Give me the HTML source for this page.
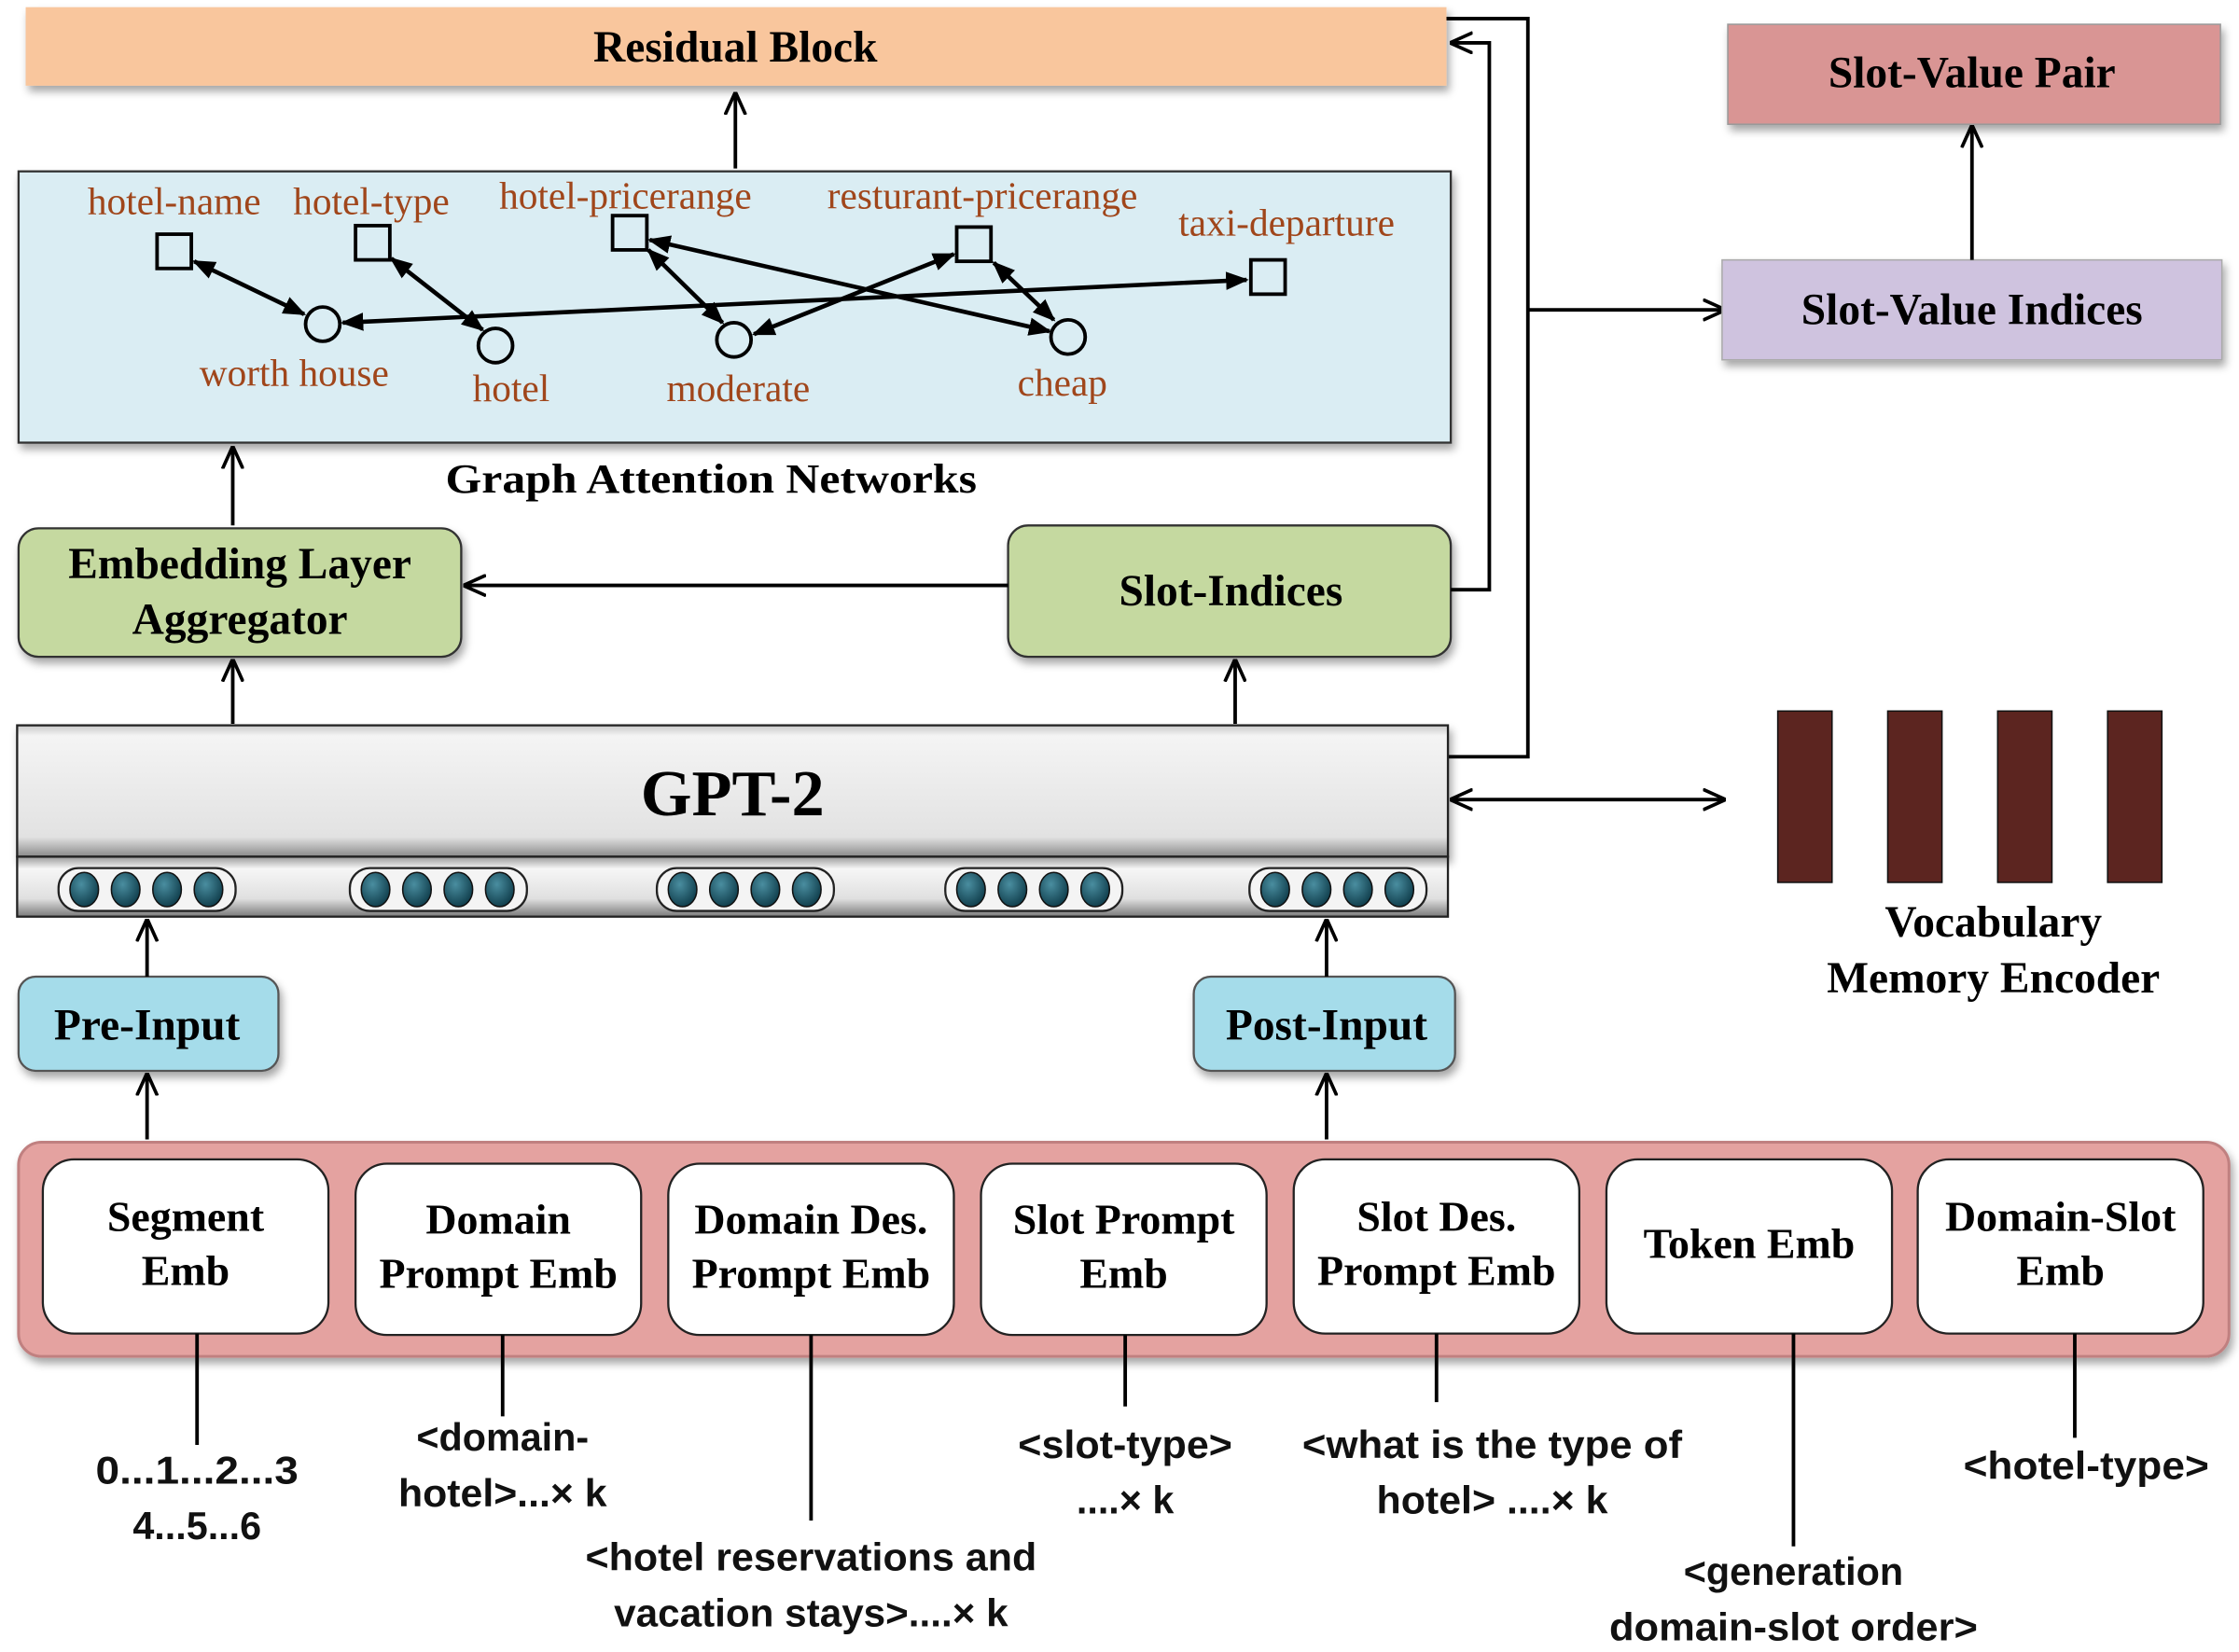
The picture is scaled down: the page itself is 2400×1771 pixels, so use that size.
<!DOCTYPE html>
<html><head><meta charset="utf-8"><style>
html,body{margin:0;padding:0;background:#fff;}
svg{display:block;}
.s{font-family:"Liberation Serif",serif;font-weight:bold;fill:#000;text-anchor:middle;}
.b{font-family:"Liberation Serif",serif;fill:#a0461b;text-anchor:middle;font-size:27px;}
.l{font-family:"Liberation Sans",sans-serif;font-weight:bold;fill:#111;text-anchor:middle;font-size:27px;}
</style></head><body>
<svg width="2400" height="1771" viewBox="0 0 1568 1157" xmlns="http://www.w3.org/2000/svg">
<defs>
<marker id="a" viewBox="0 0 10 10" refX="9" refY="5" markerWidth="16" markerHeight="16" orient="auto-start-reverse" markerUnits="userSpaceOnUse"><path d="M0,0.5 L10,5 L0,9.5" fill="none" stroke="#000" stroke-width="1.5"/></marker>
<marker id="g" viewBox="0 0 10 10" refX="9" refY="5" markerWidth="16" markerHeight="16" orient="auto-start-reverse" markerUnits="userSpaceOnUse"><path d="M0,1 L10,5 L0,9 z" fill="#000"/></marker>
<linearGradient id="gp" x1="0" y1="0" x2="0" y2="1"><stop offset="0" stop-color="#c8c8c8"/><stop offset="0.08" stop-color="#f4f4f4"/><stop offset="0.85" stop-color="#e2e2e2"/><stop offset="1" stop-color="#8a8a8a"/></linearGradient>
<linearGradient id="gs" x1="0" y1="0" x2="0" y2="1"><stop offset="0" stop-color="#9a9a9a"/><stop offset="0.2" stop-color="#f6f6f6"/><stop offset="0.7" stop-color="#e0e0e0"/><stop offset="1" stop-color="#7a7a7a"/></linearGradient>
<radialGradient id="dot" cx="0.4" cy="0.35" r="0.7"><stop offset="0" stop-color="#4a8ea0"/><stop offset="1" stop-color="#0d3a48"/></radialGradient>
<filter id="sh" x="-5%" y="-10%" width="110%" height="130%"><feDropShadow dx="2" dy="4" stdDeviation="3" flood-color="#000" flood-opacity="0.35"/></filter>
</defs>

<rect x="18" y="5" width="995" height="55" fill="#f9c69d" filter="url(#sh)"/>
<text class="s" x="515" y="43" font-size="31">Residual Block</text>
<line x1="515" y1="118" x2="515" y2="66" stroke="#000" stroke-width="2.5" marker-end="url(#a)"/>

<rect x="13" y="120" width="1003" height="190" fill="#daedf3" stroke="#333" stroke-width="1.5" filter="url(#sh)"/>
<g stroke="#000" stroke-width="3" fill="none">
<line x1="240" y1="226" x2="873" y2="196" marker-start="url(#g)" marker-end="url(#g)"/>
<line x1="136" y1="183" x2="213" y2="220" marker-start="url(#g)" marker-end="url(#g)"/>
<line x1="274" y1="181" x2="338" y2="231" marker-start="url(#g)" marker-end="url(#g)"/>
<line x1="454" y1="175" x2="506" y2="226" marker-start="url(#g)" marker-end="url(#g)"/>
<line x1="455" y1="168" x2="735" y2="232" marker-start="url(#g)" marker-end="url(#g)"/>
<line x1="528" y1="234" x2="668" y2="178" marker-start="url(#g)" marker-end="url(#g)"/>
<line x1="696" y1="184" x2="738" y2="224" marker-start="url(#g)" marker-end="url(#g)"/>
</g>
<g stroke="#000" stroke-width="2.5" fill="#daedf3">
<rect x="110" y="164" width="24" height="24"/>
<rect x="249" y="158" width="24" height="24"/>
<rect x="429" y="151" width="24" height="24"/>
<rect x="670" y="159" width="24" height="24"/>
<rect x="876" y="182" width="24" height="24"/>
<circle cx="226" cy="227" r="12"/>
<circle cx="347" cy="242" r="12"/>
<circle cx="514" cy="238" r="12"/>
<circle cx="748" cy="236" r="12"/>
</g>
<text class="b" x="122" y="150">hotel-name</text>
<text class="b" x="260" y="150">hotel-type</text>
<text class="b" x="438" y="146">hotel-pricerange</text>
<text class="b" x="688" y="146">resturant-pricerange</text>
<text class="b" x="901" y="165">taxi-departure</text>
<text class="b" x="206" y="270">worth house</text>
<text class="b" x="358" y="281">hotel</text>
<text class="b" x="517" y="281">moderate</text>
<text class="b" x="744" y="277">cheap</text>
<text class="s" x="498" y="345" font-size="29" textLength="372" lengthAdjust="spacingAndGlyphs">Graph Attention Networks</text>
<line x1="163" y1="368" x2="163" y2="314" stroke="#000" stroke-width="2.5" marker-end="url(#a)"/>

<rect x="13" y="370" width="310" height="90" rx="14" fill="#c5d9a0" stroke="#333" stroke-width="1.5" filter="url(#sh)"/>
<text class="s" x="168" y="405" font-size="31">Embedding Layer</text>
<text class="s" x="168" y="444" font-size="31">Aggregator</text>
<rect x="706" y="368" width="310" height="92" rx="14" fill="#c5d9a0" stroke="#333" stroke-width="1.5" filter="url(#sh)"/>
<text class="s" x="862" y="424" font-size="31">Slot-Indices</text>
<line x1="706" y1="410" x2="326" y2="410" stroke="#000" stroke-width="2.5" marker-end="url(#a)"/>
<line x1="163" y1="507" x2="163" y2="463" stroke="#000" stroke-width="2.5" marker-end="url(#a)"/>
<line x1="865" y1="507" x2="865" y2="463" stroke="#000" stroke-width="2.5" marker-end="url(#a)"/>

<polyline points="1016,413 1043,413 1043,30 1017,30" fill="none" stroke="#000" stroke-width="2.5" marker-end="url(#a)"/>
<polyline points="1014,530 1070,530 1070,13 1013,13" fill="none" stroke="#000" stroke-width="2.5"/>
<line x1="1070" y1="217" x2="1207" y2="217" stroke="#000" stroke-width="2.5" marker-end="url(#a)"/>
<line x1="1017" y1="560" x2="1207" y2="560" stroke="#000" stroke-width="2.5" marker-start="url(#a)" marker-end="url(#a)"/>

<rect x="12" y="508" width="1002" height="92" fill="url(#gp)" stroke="#222" stroke-width="1.5" filter="url(#sh)"/>
<rect x="12" y="600" width="1002" height="42" fill="url(#gs)" stroke="#222" stroke-width="1.5"/>
<text class="s" x="513" y="571" font-size="46">GPT-2</text>
<g>
<g transform="translate(103,623)"><rect x="-62" y="-15" width="124" height="30" rx="14" fill="#f4f4f4" stroke="#222" stroke-width="1.5"/><ellipse cx="-44" cy="0" rx="10" ry="12" fill="url(#dot)" stroke="#111"/><ellipse cx="-15" cy="0" rx="10" ry="12" fill="url(#dot)" stroke="#111"/><ellipse cx="14" cy="0" rx="10" ry="12" fill="url(#dot)" stroke="#111"/><ellipse cx="43" cy="0" rx="10" ry="12" fill="url(#dot)" stroke="#111"/></g>
<g transform="translate(307,623)"><rect x="-62" y="-15" width="124" height="30" rx="14" fill="#f4f4f4" stroke="#222" stroke-width="1.5"/><ellipse cx="-44" cy="0" rx="10" ry="12" fill="url(#dot)" stroke="#111"/><ellipse cx="-15" cy="0" rx="10" ry="12" fill="url(#dot)" stroke="#111"/><ellipse cx="14" cy="0" rx="10" ry="12" fill="url(#dot)" stroke="#111"/><ellipse cx="43" cy="0" rx="10" ry="12" fill="url(#dot)" stroke="#111"/></g>
<g transform="translate(522,623)"><rect x="-62" y="-15" width="124" height="30" rx="14" fill="#f4f4f4" stroke="#222" stroke-width="1.5"/><ellipse cx="-44" cy="0" rx="10" ry="12" fill="url(#dot)" stroke="#111"/><ellipse cx="-15" cy="0" rx="10" ry="12" fill="url(#dot)" stroke="#111"/><ellipse cx="14" cy="0" rx="10" ry="12" fill="url(#dot)" stroke="#111"/><ellipse cx="43" cy="0" rx="10" ry="12" fill="url(#dot)" stroke="#111"/></g>
<g transform="translate(724,623)"><rect x="-62" y="-15" width="124" height="30" rx="14" fill="#f4f4f4" stroke="#222" stroke-width="1.5"/><ellipse cx="-44" cy="0" rx="10" ry="12" fill="url(#dot)" stroke="#111"/><ellipse cx="-15" cy="0" rx="10" ry="12" fill="url(#dot)" stroke="#111"/><ellipse cx="14" cy="0" rx="10" ry="12" fill="url(#dot)" stroke="#111"/><ellipse cx="43" cy="0" rx="10" ry="12" fill="url(#dot)" stroke="#111"/></g>
<g transform="translate(937,623)"><rect x="-62" y="-15" width="124" height="30" rx="14" fill="#f4f4f4" stroke="#222" stroke-width="1.5"/><ellipse cx="-44" cy="0" rx="10" ry="12" fill="url(#dot)" stroke="#111"/><ellipse cx="-15" cy="0" rx="10" ry="12" fill="url(#dot)" stroke="#111"/><ellipse cx="14" cy="0" rx="10" ry="12" fill="url(#dot)" stroke="#111"/><ellipse cx="43" cy="0" rx="10" ry="12" fill="url(#dot)" stroke="#111"/></g>
</g>

<rect x="1245" y="498" width="38" height="120" fill="#5c2520" stroke="#111"/>
<rect x="1322" y="498" width="38" height="120" fill="#5c2520" stroke="#111"/>
<rect x="1399" y="498" width="38" height="120" fill="#5c2520" stroke="#111"/>
<rect x="1476" y="498" width="38" height="120" fill="#5c2520" stroke="#111"/>
<text class="s" x="1396" y="656" font-size="31">Vocabulary</text>
<text class="s" x="1396" y="695" font-size="31">Memory Encoder</text>

<rect x="1210" y="17" width="345" height="70" fill="#d99594" stroke="#999" filter="url(#sh)"/>
<text class="s" x="1381" y="61" font-size="31">Slot-Value Pair</text>
<rect x="1206" y="182" width="350" height="70" fill="#cfc3df" stroke="#aaa" filter="url(#sh)"/>
<text class="s" x="1381" y="227" font-size="31">Slot-Value Indices</text>
<line x1="1381" y1="182" x2="1381" y2="89" stroke="#000" stroke-width="2.5" marker-end="url(#a)"/>

<rect x="13" y="684" width="182" height="66" rx="12" fill="#a5dcea" stroke="#555" stroke-width="1.5" filter="url(#sh)"/>
<text class="s" x="103" y="728" font-size="31">Pre-Input</text>
<rect x="836" y="684" width="183" height="66" rx="12" fill="#a5dcea" stroke="#555" stroke-width="1.5" filter="url(#sh)"/>
<text class="s" x="929" y="728" font-size="31">Post-Input</text>
<line x1="103" y1="684" x2="103" y2="645" stroke="#000" stroke-width="2.5" marker-end="url(#a)"/>
<line x1="929" y1="684" x2="929" y2="645" stroke="#000" stroke-width="2.5" marker-end="url(#a)"/>
<line x1="103" y1="798" x2="103" y2="753" stroke="#000" stroke-width="2.5" marker-end="url(#a)"/>
<line x1="929" y1="798" x2="929" y2="753" stroke="#000" stroke-width="2.5" marker-end="url(#a)"/>

<rect x="13" y="800" width="1548" height="150" rx="16" fill="#e4a2a0" stroke="#c08080" stroke-width="2" filter="url(#sh)"/>
<g fill="#fff" stroke="#222" stroke-width="1.5">
<rect x="30" y="812" width="200" height="122" rx="22"/>
<rect x="249" y="815" width="200" height="120" rx="22"/>
<rect x="468" y="815" width="200" height="120" rx="22"/>
<rect x="687" y="815" width="200" height="120" rx="22"/>
<rect x="906" y="812" width="200" height="122" rx="22"/>
<rect x="1125" y="812" width="200" height="122" rx="22"/>
<rect x="1343" y="812" width="200" height="122" rx="22"/>
</g>
<g font-size="30">
<text class="s" x="130" y="862">Segment</text><text class="s" x="130" y="900">Emb</text>
<text class="s" x="349" y="864">Domain</text><text class="s" x="349" y="902">Prompt Emb</text>
<text class="s" x="568" y="864">Domain Des.</text><text class="s" x="568" y="902">Prompt Emb</text>
<text class="s" x="787" y="864">Slot Prompt</text><text class="s" x="787" y="902">Emb</text>
<text class="s" x="1006" y="862">Slot Des.</text><text class="s" x="1006" y="900">Prompt Emb</text>
<text class="s" x="1225" y="881">Token Emb</text>
<text class="s" x="1443" y="862">Domain-Slot</text><text class="s" x="1443" y="900">Emb</text>
</g>
<g stroke="#000" stroke-width="2.5">
<line x1="138" y1="934" x2="138" y2="1012"/>
<line x1="352" y1="935" x2="352" y2="992"/>
<line x1="568" y1="935" x2="568" y2="1065"/>
<line x1="788" y1="935" x2="788" y2="985"/>
<line x1="1006" y1="934" x2="1006" y2="982"/>
<line x1="1256" y1="934" x2="1256" y2="1083"/>
<line x1="1453" y1="934" x2="1453" y2="1007"/>
</g>
<text class="l" x="138" y="1039" textLength="142" lengthAdjust="spacingAndGlyphs">0...1...2...3</text>
<text class="l" x="138" y="1078">4...5...6</text>
<text class="l" x="352" y="1016">&lt;domain-</text>
<text class="l" x="352" y="1055" textLength="146" lengthAdjust="spacingAndGlyphs">hotel&gt;...× k</text>
<text class="l" x="568" y="1100" textLength="316" lengthAdjust="spacingAndGlyphs">&lt;hotel reservations and</text>
<text class="l" x="568" y="1139" textLength="276" lengthAdjust="spacingAndGlyphs">vacation stays&gt;....× k</text>
<text class="l" x="788" y="1021" textLength="150" lengthAdjust="spacingAndGlyphs">&lt;slot-type&gt;</text>
<text class="l" x="788" y="1060">....× k</text>
<text class="l" x="1045" y="1021" textLength="266" lengthAdjust="spacingAndGlyphs">&lt;what is the type of</text>
<text class="l" x="1045" y="1060" textLength="162" lengthAdjust="spacingAndGlyphs">hotel&gt; ....× k</text>
<text class="l" x="1256" y="1110">&lt;generation</text>
<text class="l" x="1256" y="1149" textLength="258" lengthAdjust="spacingAndGlyphs">domain-slot order&gt;</text>
<text class="l" x="1461" y="1036" textLength="172" lengthAdjust="spacingAndGlyphs">&lt;hotel-type&gt;</text>
</svg>
</body></html>
